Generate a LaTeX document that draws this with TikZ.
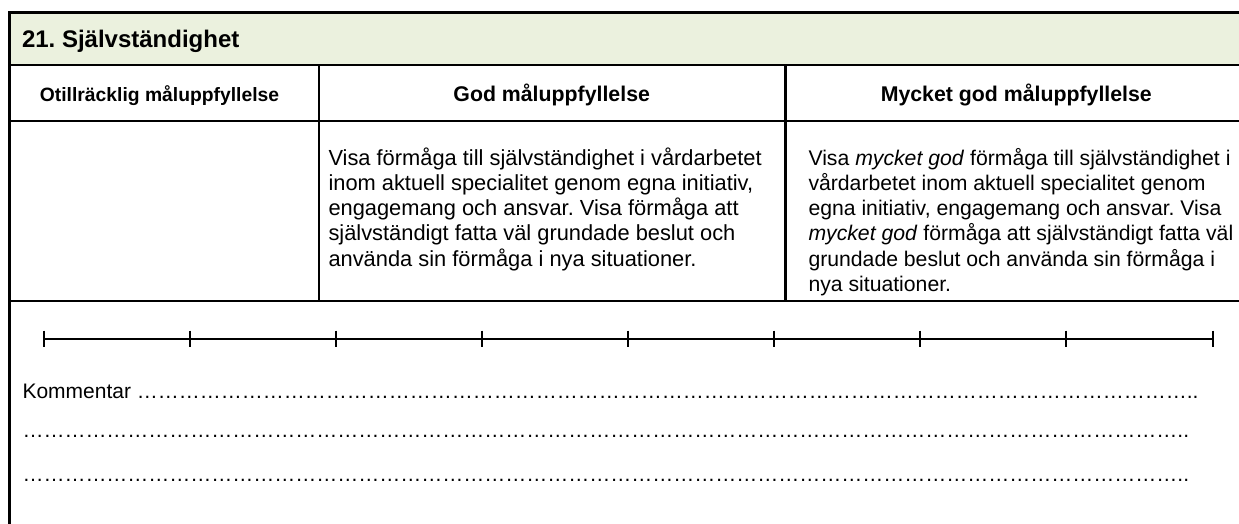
\documentclass[tikz,border=0pt]{standalone}
\usepackage{fontspec}
\setmainfont{Liberation Sans}
\frenchspacing
\definecolor{hdrgreen}{RGB}{235,241,222}
\def\fiveell{……………}
\def\tenell{\fiveell\fiveell}
\def\fiftyell{\tenell\tenell\tenell\tenell\tenell}
\begin{document}
\begin{tikzpicture}[x=1pt,y=-1pt,
  frameline/.style={line width=2.2pt,black},
  scaleline/.style={line width=1.8pt,black},
  tickline/.style={line width=2pt,black},
  txt/.style={inner sep=0pt,outer sep=0pt},
  colhead/.style={txt,anchor=base,font=\fontsize{21.3}{25}\selectfont\bfseries},
  body/.style={txt,anchor=base west},
  dotline/.style={txt,anchor=base west,font=\fontsize{21}{25}\selectfont}]
\useasboundingbox (0,0) rectangle (1239,524);
% header band
\fill[hdrgreen] (9.5,12.5) rectangle (1250,65);
% frame and grid
\draw[frameline] (9.5,540) -- (9.5,12.5) -- (1250,12.5);
\draw[frameline] (9.5,65) -- (1250,65);
\draw[frameline] (9.5,121) -- (1250,121);
\draw[frameline] (9.5,301) -- (1250,301);
\draw[frameline] (319,65) -- (319,301);
\draw[frameline] (785.5,65) -- (785.5,301);
% title
\node[txt,anchor=base west,font=\fontsize{24}{28}\selectfont\bfseries] (title) at (22,48) {21. Självständighet};
% column headers
\node[colhead,font=\fontsize{19.3}{23}\selectfont\bfseries] (h1) at (159.5,101.5) {Otillräcklig måluppfyllelse};
\node[colhead] (h2) at (551.7,101.5) {God måluppfyllelse};
\node[colhead] (h3) at (1016.3,101.5) {Mycket god måluppfyllelse};
% body texts
\node[body] (b2) at (328.5,165) {\parbox[t]{450pt}{\fontsize{21.85}{25.3}\selectfont\raggedright
Visa förmåga till självständighet i vårdarbetet\\
inom aktuell specialitet genom egna initiativ,\\
engagemang och ansvar. Visa förmåga att\\
självständigt fatta väl grundade beslut och\\
använda sin förmåga i nya situationer.}};
\node[body] (b3) at (808.5,165) {\parbox[t]{450pt}{\fontsize{21.2}{25.3}\selectfont\raggedright
Visa \textit{mycket god} förmåga till självständighet i\\
vårdarbetet inom aktuell specialitet genom\\
egna initiativ, engagemang och ansvar. Visa\\
\textit{mycket god} förmåga att självständigt fatta väl\\
grundade beslut och använda sin förmåga i\\
nya situationer.}};
% scale
\coordinate (s0) at (43.5,339);
\coordinate (s8) at (1212.5,339);
\draw[scaleline] (s0) -- (s8);
\foreach \i in {0,...,8} {
  \coordinate (t\i) at (43.5+146.125*\i,330.5);
  \draw[tickline] (t\i) -- ++(0,16.5);
}
% comment lines
\node[dotline] (k1) at (22.5,398) {Kommentar \fiftyell..};
\node[dotline] (k2) at (22.5,437) {\fiftyell\fiveell..};
\node[dotline] (k3) at (22.5,481) {\fiftyell\fiveell..};
\end{tikzpicture}
\end{document}
